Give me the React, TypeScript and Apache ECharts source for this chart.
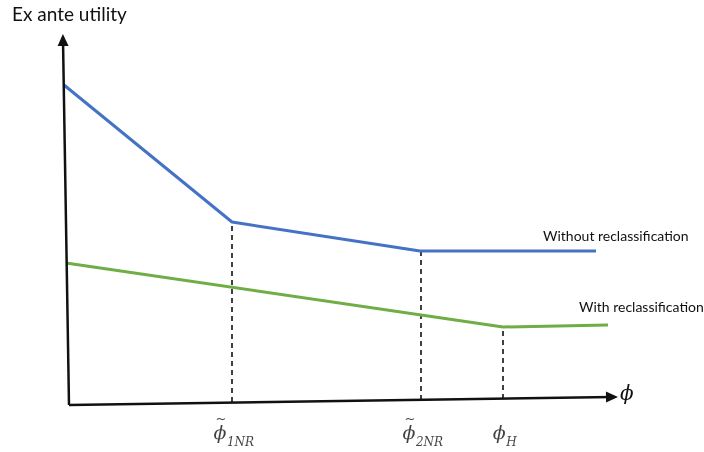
import React, { useEffect, useRef } from "react";
import * as echarts from "echarts";

// Coordinates: x = position along phi axis, y = ex ante utility (origin at axis corner)
const withoutX = [-5, 163, 351, 527];
const withoutY = [320, 183, 154, 154];
const withX = [-3, 434, 539];
const withY = [142, 78, 80];

const tickX = [163, 352, 434];
const tickTopY = [183, 154, 78];
const tickBottomY = [3, 5, 6];
const tickTilde = [true, true, false];
const tickMain = ["ϕ", "ϕ", "ϕ"];
const tickSub = ["1NR", "2NR", "H"];

const yAxisEnd = [-6, 365];
const xAxisEnd = [543, 8];

export default function App() {
  const ref = useRef<HTMLDivElement>(null);
  useEffect(() => {
    if (!ref.current) return;
    const chart = echarts.init(ref.current, null, { renderer: "svg" });
    const dashed = tickX.map((x, i) => ({
      type: "line",
      data: [
        [x, tickBottomY[i]],
        [x, tickTopY[i]],
      ],
      symbol: "none",
      silent: true,
      lineStyle: { color: "#111", width: 1.6, type: [5, 4] },
      z: 1,
    }));
    const serif = {
      fontFamily: "DejaVu Serif",
      fontStyle: "italic",
      color: "#111",
    };
    chart.setOption({
      animation: false,
      grid: { left: 0, top: 0, width: 704, height: 452 },
      xAxis: { type: "value", min: -69, max: 635, show: false },
      yAxis: { type: "value", min: -47, max: 405, show: false },
      series: [
        {
          type: "line",
          data: withoutX.map((x, i) => [x, withoutY[i]]),
          symbol: "none",
          silent: true,
          lineStyle: { color: "#4472C4", width: 3 },
          z: 3,
        },
        {
          type: "line",
          data: withX.map((x, i) => [x, withY[i]]),
          symbol: "none",
          silent: true,
          lineStyle: { color: "#70AD47", width: 3 },
          z: 3,
        },
        ...dashed,
        {
          type: "line",
          data: [],
          silent: true,
          markLine: {
            silent: true,
            symbol: ["none", "triangle"],
            symbolSize: [11, 12],
            label: { show: false },
            lineStyle: { color: "#111", width: 2.5, type: "solid" },
            data: [
              [{ coord: [0, 0] }, { coord: yAxisEnd }],
              [{ coord: [0, 0] }, { coord: xAxisEnd }],
            ],
          },
          z: 4,
        },
        {
          type: "scatter",
          data: tickX.map((x, i) => ({
            value: [x, -33],
            label: { offset: tickTilde[i] ? [0, -7] : [0, -3] },
          })),
          symbolSize: 0,
          silent: true,
          label: {
            show: true,
            position: "inside",
            formatter: (p: any) => {
              const i = p.dataIndex;
              const main = `{m|${tickMain[i]}}{s|${tickSub[i]}}`;
              return tickTilde[i] ? `{t|~}\n${main}` : main;
            },
            rich: {
              t: {
                ...serif,
                fontStyle: "normal",
                fontFamily: "DejaVu Sans",
                fontSize: 13,
                width: 14,
                align: "center",
                lineHeight: 8,
                padding: [0, 25, 0, 3],
              },
              m: {
                ...serif,
                fontSize: 19,
                width: 14,
                align: "center",
                padding: [0, 0, 0, 3],
                verticalAlign: "top",
                lineHeight: 26,
              },
              s: {
                ...serif,
                fontSize: 12,
                verticalAlign: "bottom",
                lineHeight: 26,
              },
            },
          },
        },
      ],
      graphic: [
        {
          type: "text",
          left: 12,
          top: 4,
          style: {
            text: "Ex ante utility",
            fontFamily: "Lato",
            fontSize: 19,
            fill: "#111",
          },
        },
        {
          type: "text",
          left: 543,
          top: 228,
          style: {
            text: "Without reclassification",
            fontFamily: "Lato",
            fontSize: 14,
            fill: "#111",
          },
        },
        {
          type: "text",
          left: 579,
          top: 299,
          style: {
            text: "With reclassification",
            fontFamily: "Lato",
            fontSize: 14,
            fill: "#111",
          },
        },
        {
          type: "text",
          left: 620,
          top: 383,
          style: {
            text: "ϕ",
            fontFamily: "DejaVu Serif",
            fontStyle: "italic",
            fontSize: 20,
            fill: "#111",
          },
        },
      ],
    });
    return () => chart.dispose();
  }, []);
  return (
    <div
      ref={ref}
      style={{ position: "fixed", left: 0, top: 0, width: 704, height: 452 }}
    />
  );
}
